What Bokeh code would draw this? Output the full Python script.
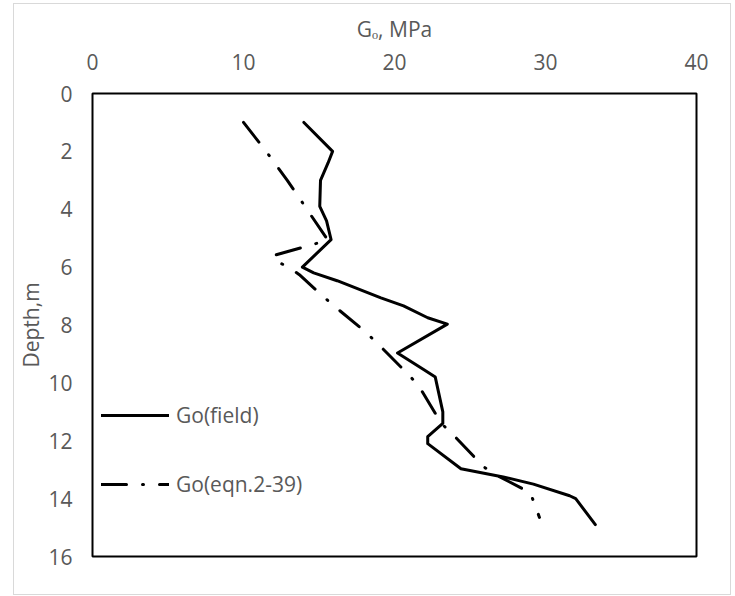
from bokeh.plotting import figure
from bokeh.models import Range1d, FixedTicker, Legend, LegendItem, LinearAxis
from bokeh.embed import file_html
from bokeh.resources import INLINE

# Shear modulus profile: field measurements (G in MPa, depth in m)
field_g = [14.0, 15.9, 15.6, 15.1, 15.05, 15.5, 15.8, 13.9, 14.65, 16.2, 19.1, 20.6,
           22.2, 23.5, 20.2, 21.9, 22.7, 23.2, 23.2, 22.2, 22.2, 24.4, 27.2, 29.2,
           31.6, 32.0, 33.3]
field_depth = [1.0, 2.0, 2.4, 3.0, 3.9, 4.4, 5.05, 6.0, 6.2, 6.47, 7.06, 7.34,
               7.75, 7.97, 8.97, 9.53, 9.8, 11.0, 11.4, 11.86, 12.1, 12.97, 13.25, 13.5,
               13.9, 14.0, 14.9]

# Shear modulus from eqn. 2-39
eqn_g = [10.0, 11.5, 12.9, 14.2, 15.6, 14.7, 12.0, 12.0, 12.9, 13.7, 15.1, 15.9,
         18.1, 18.9, 20.9, 21.6, 23.1, 23.9, 25.9, 26.8, 29.0, 29.6]
eqn_depth = [1.0, 2.0, 3.0, 4.0, 5.08, 5.2, 5.6, 5.75, 5.98, 6.26, 6.93, 7.3,
             8.25, 8.65, 9.7, 10.1, 11.4, 11.8, 12.9, 13.2, 13.8, 14.65]

x_ticks = [0, 10, 20, 30, 40]
y_ticks = [0, 2, 4, 6, 8, 10, 12, 14, 16]

FONT = "Open Sans"
TEXT_COLOR = "#595959"
SIZE = "21px"

p = figure(width=718, height=592, output_backend="svg", toolbar_location=None,
           x_range=Range1d(0, 40), y_range=Range1d(16, 0),
           x_axis_location=None, y_axis_location="left",
           min_border_left=77, min_border_right=36, min_border_top=89, min_border_bottom=40,
           background_fill_color="white", border_fill_color="white")
p.margin = (3, 0, 0, 13)
p.styles = {"border": "1px solid #d9d9d9", "box-sizing": "border-box"}

p.xgrid.visible = False
p.ygrid.visible = False
p.outline_line_color = "black"
p.outline_line_width = 2

top_axis = LinearAxis(ticker=FixedTicker(ticks=x_ticks))
p.add_layout(top_axis, "above")

for ax in (top_axis, p.yaxis[0]):
    ax.axis_line_color = None
    ax.major_tick_line_color = None
    ax.minor_tick_line_color = None
    ax.major_tick_out = 0
    ax.major_label_text_font = FONT
    ax.major_label_text_font_size = SIZE
    ax.major_label_text_color = TEXT_COLOR
    ax.axis_label_text_font = FONT
    ax.axis_label_text_font_size = SIZE
    ax.axis_label_text_font_style = "normal"
    ax.axis_label_text_color = TEXT_COLOR

top_axis.major_label_standoff = 24
top_axis.axis_label = "G\u2092, MPa"
top_axis.axis_label_standoff = 8

p.yaxis.ticker = FixedTicker(ticks=y_ticks)
p.yaxis.major_label_standoff = 20
p.yaxis.axis_label = "Depth,m"
p.yaxis.axis_label_standoff = 0

r_field = p.line(field_g, field_depth, line_color="black", line_width=3,
                 line_join="round", line_cap="round")
r_eqn = p.line(eqn_g, eqn_depth, line_color="black", line_width=3,
               line_join="round", line_cap="round", line_dash="25 16 1 16")

legend = Legend(items=[LegendItem(label="Go(field)", renderers=[r_field]),
                       LegendItem(label="Go(eqn.2-39)", renderers=[r_eqn])],
                location=(4, 53), orientation="vertical")
legend.background_fill_alpha = 0
legend.border_line_alpha = 0
legend.label_text_font = FONT
legend.label_text_font_size = SIZE
legend.label_text_color = TEXT_COLOR
legend.glyph_width = 68
legend.glyph_height = 20
legend.label_height = 20
legend.label_standoff = 7
legend.spacing = 41
legend.padding = 5
legend.margin = 0
p.add_layout(legend, "center")

open("out.html", "w").write(file_html(p, INLINE))
